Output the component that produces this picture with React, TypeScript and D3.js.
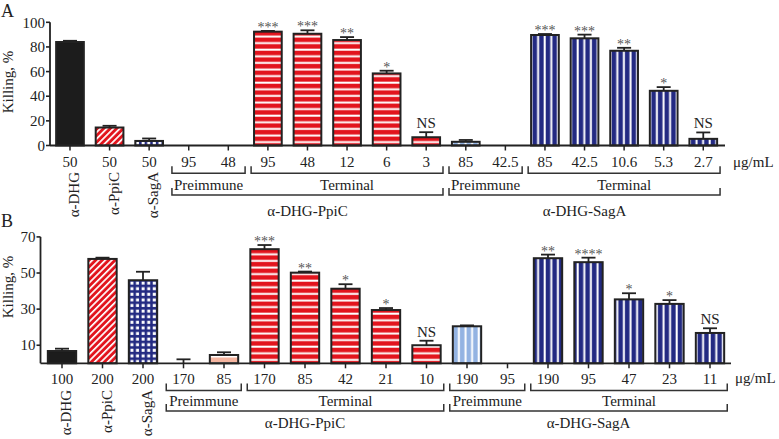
import React from "react";
import * as d3 from "d3";

const W = 779;
const H = 439;

const catLabels = ["α-DHG", "α-PpiC", "α-SagA"];

const ticksA = ["50", "50", "50", "95", "48", "95", "48", "12", "6", "3", "85", "42.5", "85", "42.5", "10.6", "5.3", "2.7"];
const valuesA = [84, 14.6, 3.7, 0, 0, 92.4, 90.7, 85.6, 58.5, 6.7, 3, 0, 89.7, 87, 76.9, 44.4, 5.4];
const errTopA = [85, 16, 5.7, 0, 0, 93, 93.5, 88, 60.7, 10.8, 4.5, 0, 90.5, 90, 79.3, 47.4, 10.6];
const sigA = ["", "", "", "", "", "***", "***", "**", "*", "NS", "", "", "***", "***", "**", "*", "NS"];
const fillsA = ["black", "diag", "grid", "none", "none", "hred", "hred", "hred", "hred", "hred", "lblue", "none", "vnavy", "vnavy", "vnavy", "vnavy", "vnavy"];

const ticksB = ["100", "200", "200", "170", "85", "170", "85", "42", "21", "10", "190", "95", "190", "95", "47", "23", "11"];
const valuesB = [6.8, 57.8, 46, 0, 4.6, 63.2, 50.2, 41.3, 29.5, 10, 20.5, 0, 58.2, 56, 35.4, 32.9, 16.8];
const errTopB = [8.1, 58.5, 50.7, 2.2, 6.1, 65.5, 50.8, 43.8, 30.6, 12.5, 21, 0, 60.2, 58.5, 38.8, 35, 19.4];
const sigB = ["", "", "", "", "", "***", "**", "*", "*", "NS", "", "", "**", "****", "*", "*", "NS"];
const fillsB = ["black", "diag", "grid", "salmon", "salmon", "hred", "hred", "hred", "hred", "hred", "lblue", "none", "vnavy", "vnavy", "vnavy", "vnavy", "vnavy"];

const yTicksA = [0, 20, 40, 60, 80, 100];
const yTicksB = [10, 30, 50, 70];

const groups = [
  { label: "α-DHG-PpiC", pre: [3, 4], term: [5, 9] },
  { label: "α-DHG-SagA", pre: [10, 11], term: [12, 16] },
];

const FONT = "Liberation Serif, DejaVu Serif, Times New Roman, serif";
const INK = "#222";
const RED = "#e2141d";
const NAVY = "#232a82";

const fillMap: Record<string, string> = {
  black: "#1c1c1c",
  diag: "url(#pDiag)",
  grid: "url(#pGrid)",
  salmon: "url(#pSalmon)",
  hred: "url(#pHRed)",
  lblue: "url(#pLBlue)",
  vnavy: "url(#pVNavy)",
};

type Layout = {
  letter: string;
  letterY: number;
  ticks: string[];
  values: number[];
  errTop: number[];
  sig: string[];
  fills: string[];
  xStart: number;
  step: number;
  axisX: number;
  xEnd: number;
  yDomain: [number, number];
  yRange: [number, number];
  yTicks: number[];
  yLabelY: number;
  tickLabelY: number;
  rotY: number;
  br1Y: number;
  lab1Y: number;
  br2Y: number;
  lab2Y: number;
  unitX: number;
  unitY: number;
};

const layoutA: Layout = {
  letter: "A",
  letterY: 17,
  ticks: ticksA,
  values: valuesA,
  errTop: errTopA,
  sig: sigA,
  fills: fillsA,
  xStart: 50.2,
  step: 39.58,
  axisX: 50,
  xEnd: 725,
  yDomain: [0, 100],
  yRange: [145.5, 22.3],
  yTicks: yTicksA,
  yLabelY: 82,
  tickLabelY: 166.5,
  rotY: 172,
  br1Y: 173.3,
  lab1Y: 189.5,
  br2Y: 195,
  lab2Y: 215.5,
  unitX: 733,
  unitY: 166.5,
};

const layoutB: Layout = {
  letter: "B",
  letterY: 227,
  ticks: ticksB,
  values: valuesB,
  errTop: errTopB,
  sig: sigB,
  fills: fillsB,
  xStart: 41.75,
  step: 40.5,
  axisX: 40.5,
  xEnd: 731,
  yDomain: [0, 70],
  yRange: [363.3, 236.9],
  yTicks: yTicksB,
  yLabelY: 287,
  tickLabelY: 384,
  rotY: 390,
  br1Y: 390.5,
  lab1Y: 406,
  br2Y: 411,
  lab2Y: 428,
  unitX: 735,
  unitY: 383,
};

function Panel({ L }: { L: Layout }) {
  const n = L.values.length;
  const x = d3
    .scaleBand<number>()
    .domain(d3.range(n))
    .range([L.xStart, L.xStart + n * L.step])
    .paddingInner(0.3)
    .paddingOuter(0.15);
  const y = d3.scaleLinear().domain(L.yDomain).range(L.yRange);
  const bw = x.bandwidth();
  const step = x.step();
  const cx = (i: number) => (x(i) as number) + bw / 2;
  const y0 = y(0);

  const bracket = (a: number, b: number, yy: number, key: string) => (
    <path
      key={key}
      d={`M${a},${yy - 7}V${yy}H${b}V${yy - 7}`}
      fill="none"
      stroke="#333"
      strokeWidth={1.5}
    />
  );

  return (
    <g>
      <text x={1} y={L.letterY} fontSize={18} fill={INK}>
        {L.letter}
      </text>
      <text
        transform={`translate(13,${L.yLabelY}) rotate(-90)`}
        textAnchor="middle"
        fontSize={15}
        fill={INK}
      >
        Killing, %
      </text>
      <line x1={L.axisX} x2={L.axisX} y1={y(L.yDomain[1])} y2={y0} stroke={INK} strokeWidth={1.8} />
      {L.yTicks.map((t) => (
        <g key={"yt" + t}>
          <line x1={L.axisX - 4} x2={L.axisX} y1={y(t)} y2={y(t)} stroke={INK} strokeWidth={1.6} />
          <text x={L.axisX - 5} y={y(t)} dy="0.35em" textAnchor="end" fontSize={15} fill={INK}>
            {t}
          </text>
        </g>
      ))}
      {L.values.map((v, i) => {
        const f = L.fills[i];
        const top = L.errTop[i];
        const c = cx(i);
        return (
          <g key={"b" + i}>
            {top > v && (
              <g stroke={INK} strokeWidth={1.8}>
                <line x1={c} x2={c} y1={y(v)} y2={y(top)} />
                <line x1={c - 7} x2={c + 7} y1={y(top)} y2={y(top)} />
              </g>
            )}
            {v > 0 && f !== "none" && (
              <rect
                x={x(i)}
                y={y(v)}
                width={bw}
                height={y0 - y(v)}
                fill={fillMap[f]}
                stroke={INK}
                strokeWidth={2}
              />
            )}
            {L.sig[i] && (
              <text
                x={c}
                y={L.sig[i] === "NS" ? y(top) - 4 : y(top) + 1}
                textAnchor="middle"
                fontSize={L.sig[i] === "NS" ? 15 : 14}
                fill={L.sig[i] === "NS" ? INK : "#555"}
              >
                {L.sig[i]}
              </text>
            )}
          </g>
        );
      })}
      <line x1={L.axisX} x2={L.xEnd} y1={y0} y2={y0} stroke={INK} strokeWidth={1.8} />
      {L.values.map((_, i) => (
        <line key={"xt" + i} x1={cx(i)} x2={cx(i)} y1={y0} y2={y0 + 5} stroke={INK} strokeWidth={1.5} />
      ))}
      {L.ticks.map((t, i) => (
        <text key={"xl" + i} x={cx(i)} y={L.tickLabelY} textAnchor="middle" fontSize={15} fill={INK}>
          {t}
        </text>
      ))}
      {catLabels.map((c, i) => (
        <text
          key={"cl" + i}
          transform={`translate(${cx(i) + 9},${L.rotY}) rotate(-90)`}
          textAnchor="end"
          fontSize={15}
          fill={INK}
        >
          {c}
        </text>
      ))}
      <text x={L.unitX} y={L.unitY} fontSize={15} fill={INK}>
        μg/mL
      </text>
      {groups.map((g, gi) => {
        const pa = cx(g.pre[0]) - step / 2 + 3;
        const pb = cx(g.pre[1]) + step / 2 - 3;
        const ta = cx(g.term[0]) - step / 2 + 3;
        const tb = cx(g.term[1]) + step / 2 - 3;
        return (
          <g key={"g" + gi}>
            {bracket(pa, pb, L.br1Y, "p")}
            {bracket(ta, tb, L.br1Y, "t")}
            {bracket(pa, tb, L.br2Y, "a")}
            <text x={(pa + pb) / 2} y={L.lab1Y} textAnchor="middle" fontSize={15} fill={INK}>
              Preimmune
            </text>
            <text x={(ta + tb) / 2} y={L.lab1Y} textAnchor="middle" fontSize={15} fill={INK}>
              Terminal
            </text>
            <text x={(pa + tb) / 2} y={L.lab2Y} textAnchor="middle" fontSize={15} fill={INK}>
              {g.label}
            </text>
          </g>
        );
      })}
    </g>
  );
}

export default function App() {
  return (
    <svg
      width={W}
      height={H}
      viewBox={`0 0 ${W} ${H}`}
      fontFamily={FONT}
      style={{ position: "absolute", left: 0, top: 0, background: "#fff", fontFamily: FONT }}
    >
      <defs>
        <pattern id="pDiag" patternUnits="userSpaceOnUse" width={4.6} height={10} patternTransform="rotate(45)">
          <rect width={4.6} height={10} fill={RED} />
          <rect width={1.7} height={10} fill="#fff" />
        </pattern>
        <pattern id="pHRed" patternUnits="userSpaceOnUse" width={10} height={6.6}>
          <rect width={10} height={6.6} fill={RED} />
          <rect y={2.5} width={10} height={2} fill="#fff" />
        </pattern>
        <pattern id="pVNavy" patternUnits="userSpaceOnUse" width={6.6} height={10}>
          <rect width={6.6} height={10} fill={NAVY} />
          <rect x={2.5} width={2} height={10} fill="#fff" />
        </pattern>
        <pattern id="pLBlue" patternUnits="userSpaceOnUse" width={6.6} height={10}>
          <rect width={6.6} height={10} fill="#93b3e2" />
          <rect x={2.5} width={2} height={10} fill="#fff" />
        </pattern>
        <pattern id="pGrid" patternUnits="userSpaceOnUse" width={5.6} height={5.6}>
          <rect width={5.6} height={5.6} fill={NAVY} />
          <rect x={1.6} y={1.6} width={3} height={3} fill="#fff" />
        </pattern>
        <pattern id="pSalmon" patternUnits="userSpaceOnUse" width={10} height={6}>
          <rect width={10} height={6} fill="#f5b5a0" />
          <rect y={2} width={10} height={1.5} fill="#fff" />
        </pattern>
      </defs>
      <Panel L={layoutA} />
      <Panel L={layoutB} />
    </svg>
  );
}
